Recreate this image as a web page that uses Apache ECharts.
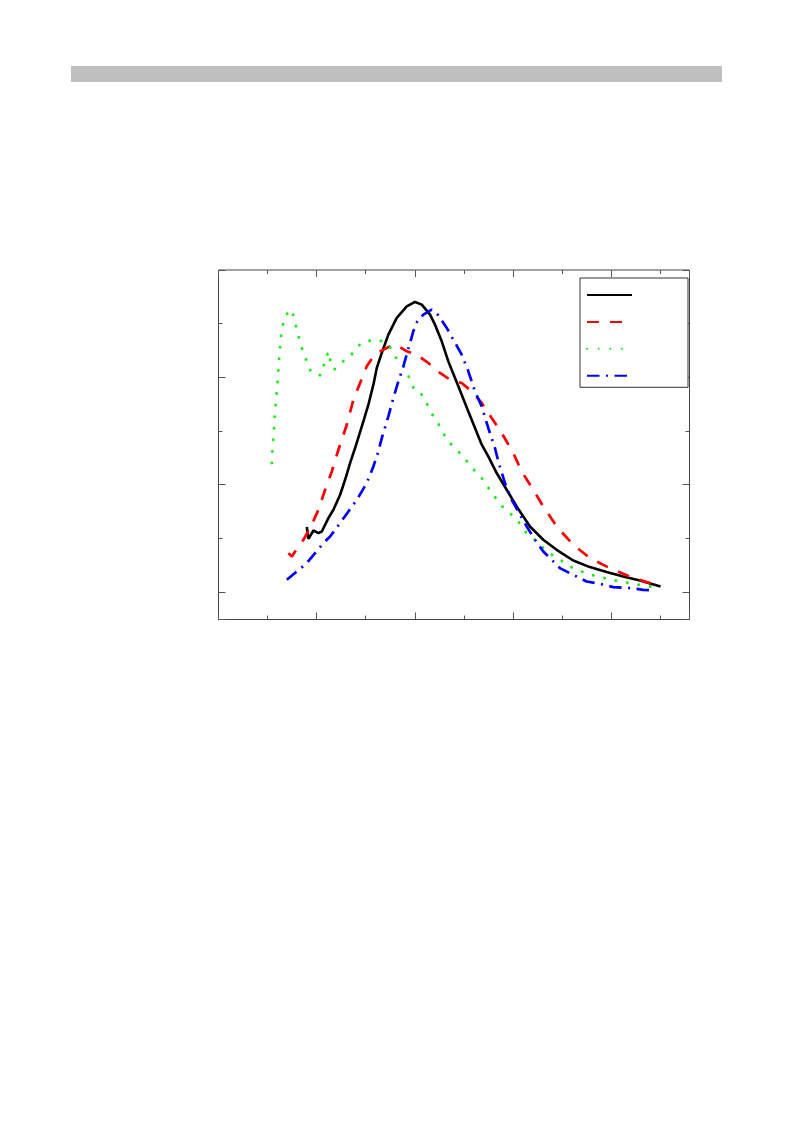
<!DOCTYPE html>
<html>
<head>
<meta charset="utf-8">
<script src="https://cdn.jsdelivr.net/npm/echarts@6/dist/echarts.min.js"></script>
<style>
html,body{margin:0;padding:0;background:#fff;}
#chart{width:793px;height:1123px;}
</style>
</head>
<body>
<div id="chart"></div>
<script>
// Series data: [x, y] pairs
const seriesNames = ['s1', 's2', 's3', 's4'];
const blackSolid = [
  [1.800,1.212],[1.833,0.993],[1.935,1.148],[2.037,1.100],[2.106,1.130],[2.240,1.379],[2.342,1.534],
  [2.479,1.814],[2.580,2.093],[2.682,2.404],[2.784,2.684],[2.953,3.180],[3.055,3.491],[3.157,3.864],
  [3.226,4.175],[3.328,4.455],[3.462,4.796],[3.633,5.107],[3.837,5.323],[4.006,5.405],[4.143,5.355],
  [4.312,5.169],[4.413,4.982],[4.550,4.671],[4.684,4.298],[4.821,3.989],[4.957,3.678],[5.092,3.366],
  [5.228,3.057],[5.365,2.746],[5.499,2.527],[5.670,2.218],[5.874,1.907],[6.077,1.596],[6.348,1.223],
  [6.619,0.975],[6.892,0.788],[7.230,0.589],[7.570,0.466],[7.910,0.373],[8.248,0.291],[8.589,0.216],
  [9.010,0.104]
];
const redDashed = [
  [1.426,0.727],[1.495,0.664],[1.562,0.757],[1.731,0.975],[1.868,1.193],[2.037,1.534],[2.173,1.907],
  [2.310,2.248],[2.444,2.652],[2.615,3.118],[2.749,3.584],[2.886,3.896],[3.022,4.205],[3.157,4.391],
  [3.293,4.485],[3.430,4.548],[3.564,4.610],[3.701,4.563],[3.837,4.485],[4.041,4.423],[4.277,4.268],
  [4.515,4.082],[4.719,3.957],[4.957,3.896],[5.161,3.739],[5.365,3.523],[5.568,3.243],[5.772,2.964],
  [6.008,2.591],[6.179,2.248],[6.415,1.907],[6.619,1.596],[6.892,1.223],[7.230,0.882],[7.570,0.634],
  [7.978,0.447],[8.385,0.291],[8.792,0.168],[9.010,0.104]
];
const greenDotted = [
  [1.088,2.404],[1.100,2.652],[1.120,2.900],[1.155,3.398],[1.202,3.896],[1.242,4.423],[1.291,4.921],
  [1.379,5.169],[1.495,5.262],[1.562,5.014],[1.629,4.764],[1.699,4.548],[1.786,4.330],[1.882,4.101],
  [1.969,4.063],[2.086,4.037],[2.159,4.268],[2.240,4.485],[2.295,4.237],[2.356,4.144],[2.534,4.298],
  [2.615,4.330],[2.697,4.410],[2.819,4.548],[2.921,4.652],[3.022,4.671],[3.191,4.703],[3.348,4.671],
  [3.497,4.559],[3.619,4.362],[3.782,4.205],[3.890,3.989],[4.006,3.739],[4.143,3.678],[4.277,3.459],
  [4.379,3.273],[4.515,3.087],[4.648,2.848],[4.855,2.643],[4.957,2.559],[5.092,2.404],[5.263,2.218],
  [5.397,2.093],[5.534,1.894],[5.703,1.689],[5.839,1.534],[5.976,1.441],[6.110,1.316],[6.246,1.130],
  [6.415,1.007],[6.552,0.882],[6.735,0.727],[6.935,0.621],[7.163,0.477],[7.401,0.384],[7.672,0.304],
  [7.910,0.253],[8.181,0.198],[8.452,0.155],[8.725,0.117],[9.010,0.075]
];
const blueDashDot = [
  [1.393,0.229],[1.597,0.384],[1.800,0.541],[1.969,0.727],[2.138,0.913],[2.275,1.036],[2.479,1.286],
  [2.648,1.502],[2.819,1.720],[3.022,2.032],[3.157,2.341],[3.259,2.621],[3.328,2.870],[3.462,3.273],
  [3.564,3.616],[3.666,3.925],[3.768,4.205],[3.870,4.535],[3.971,4.857],[4.053,5.044],[4.175,5.169],
  [4.346,5.262],[4.481,5.156],[4.652,4.921],[4.786,4.703],[4.957,4.423],[5.092,4.112],[5.228,3.739],
  [5.365,3.459],[5.499,3.057],[5.635,2.684],[5.703,2.434],[5.839,2.032],[5.976,1.720],[6.110,1.502],
  [6.281,1.223],[6.450,0.975],[6.619,0.757],[6.790,0.602],[6.959,0.447],[7.230,0.322],[7.503,0.198],
  [7.774,0.155],[8.045,0.093],[8.385,0.075],[8.656,0.043],[8.894,0.034]
];
// Axis ranges / tick spacing
const xRange = [0, 9.6];
const yRange = [-0.51, 6.0];
const xMajor = 2, xMinor = 1;
const yMajor = 2, yMinor = 1;

const chart = echarts.init(document.getElementById('chart'), null, {renderer: 'canvas'});
const tickColor = '#555';
function xTickAxis(pos, interval, len) {
  return {
    type: 'value', position: pos, min: xRange[0], max: xRange[1], interval: interval,
    axisLine: {show: false, onZero: false}, splitLine: {show: false}, axisLabel: {show: false},
    axisTick: {show: true, inside: true, length: len, lineStyle: {color: tickColor, width: 1}}
  };
}
function yTickAxis(pos, interval, len) {
  // inverted so that ticks count from the top (value 6) downwards to 0
  return {
    type: 'value', position: pos, inverse: true, min: -yRange[1], max: -yRange[0], interval: interval,
    axisLine: {show: false, onZero: false}, splitLine: {show: false}, axisLabel: {show: false},
    axisTick: {show: true, inside: true, length: len, lineStyle: {color: tickColor, width: 1}}
  };
}
const lineStyles = [
  {color: '#000000', width: 2.6, type: 'solid'},
  {color: '#ff0000', width: 2.7, type: [12, 11]},
  {color: '#11ee11', width: 2.9, type: [0.1, 11.5], cap: 'round'},
  {color: '#0000ff', width: 2.7, type: [12.5, 6.5, 2, 6.5]}
];
const datasets = [blackSolid, redDashed, greenDotted, blueDashDot];

const option = {
  animation: false,
  backgroundColor: '#ffffff',
  graphic: [{
    type: 'rect', left: 71, top: 66, shape: {width: 651, height: 16},
    style: {fill: '#bfbfbf'}, silent: true
  }],
  grid: {left: 218.5, top: 270, width: 471, height: 349.5, show: true,
         borderColor: '#444', borderWidth: 1, backgroundColor: 'transparent'},
  legend: {
    show: true, orient: 'vertical', left: 580, top: 278,
    itemWidth: 45, itemHeight: 14, itemGap: 14.3,
    padding: [10, 55, 6, 6],
    backgroundColor: '#fff', borderColor: '#333', borderWidth: 1,
    itemStyle: {color: 'rgba(0,0,0,0)', borderWidth: 0, opacity: 0},
    formatter: function () { return ''; },
    textStyle: {fontSize: 10},
    data: seriesNames
  },
  xAxis: [
    xTickAxis('bottom', xMajor, 7),
    xTickAxis('bottom', xMinor, 4),
    xTickAxis('top', xMajor, 7),
    xTickAxis('top', xMinor, 4)
  ],
  yAxis: [
    {type: 'value', min: yRange[0], max: yRange[1], show: false},
    yTickAxis('left', yMajor, 7),
    yTickAxis('left', yMinor, 4),
    yTickAxis('right', yMajor, 7),
    yTickAxis('right', yMinor, 4)
  ],
  series: datasets.map((d, i) => ({
    name: seriesNames[i], type: 'line', data: d, xAxisIndex: 0, yAxisIndex: 0,
    showSymbol: false, symbol: 'none', smooth: false,
    lineStyle: lineStyles[i], itemStyle: {color: lineStyles[i].color},
    z: 2
  }))
};
chart.setOption(option);
</script>
</body>
</html>
